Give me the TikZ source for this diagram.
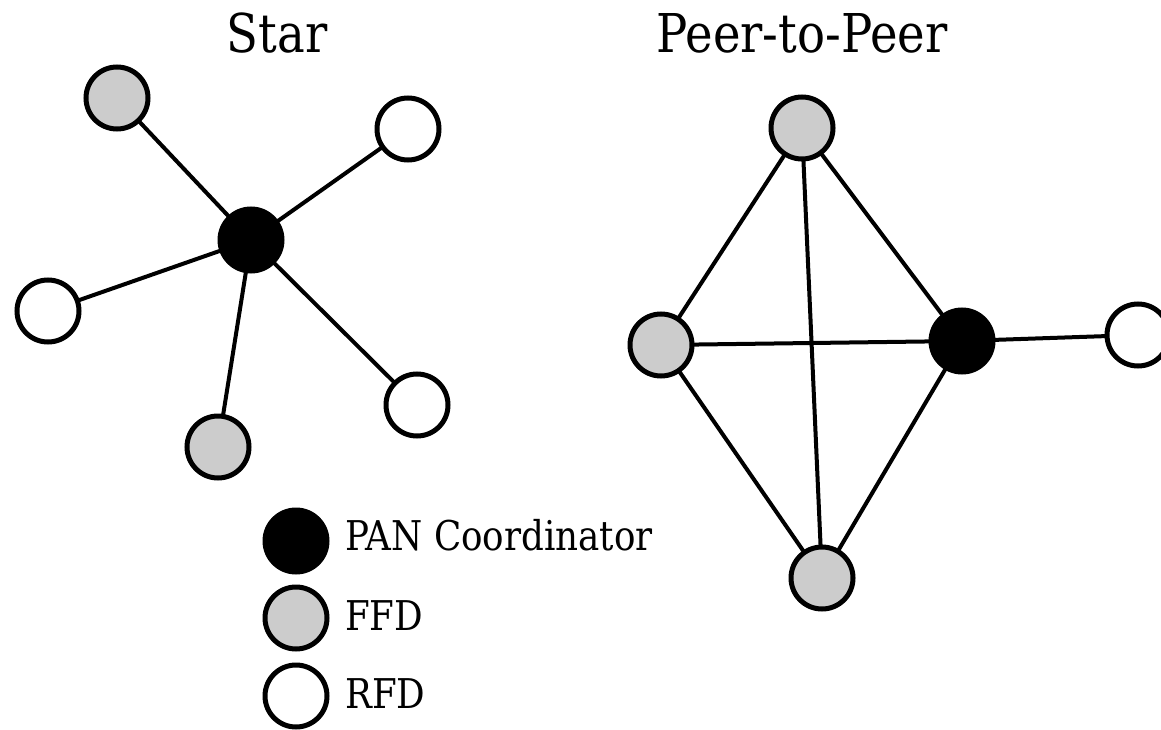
\documentclass[tikz,border=0pt]{standalone}
\usepackage{fontspec}
\setmainfont{DejaVu Serif}[FakeStretch=0.87]
\definecolor{ffdgray}{RGB}{204,204,204}
\tikzset{
  dev/.style={circle, draw=black, line width=5pt, minimum size=62pt, inner sep=0pt},
  pan/.style={dev, fill=black},
  ffd/.style={dev, fill=ffdgray},
  rfd/.style={dev, fill=white},
  link/.style={line width=4pt, black},
  title/.style={anchor=base, font=\fontsize{53.5}{60}\selectfont},
  legtext/.style={anchor=base west, font=\fontsize{41}{48}\selectfont, inner sep=0pt}
}
\begin{document}
\begin{tikzpicture}[x=1pt, y=-1pt]
\clip (0,0) rectangle (1161,730);
\fill[white] (0,0) rectangle (1161,730);
% titles
\node[title] (tstar) at (277,53) {Star};
\node[title] (tp2p) at (802,53) {Peer-to-Peer};
% star
\coordinate (sc) at (251,240);
\coordinate (s1) at (117,98);
\coordinate (s2) at (408,129);
\coordinate (s3) at (48,311);
\coordinate (s4) at (417,405);
\coordinate (s5) at (218,447);
\draw[link] (sc) -- (s1) (sc) -- (s2) (sc) -- (s3) (sc) -- (s4) (sc) -- (s5);
\node[pan] (c) at (sc) {};
\node[ffd] (a1) at (s1) {};
\node[rfd] (a2) at (s2) {};
\node[rfd] (a3) at (s3) {};
\node[rfd] (a4) at (s4) {};
\node[ffd] (a5) at (s5) {};
% peer-to-peer
\coordinate (pt) at (802,128);
\coordinate (pl) at (661,345);
\coordinate (pr) at (962,341);
\coordinate (pb) at (822,578);
\coordinate (pf) at (1138,335);
\draw[link] (pt) -- (pl) (pt) -- (pr) (pt) -- (pb) (pl) -- (pr) (pl) -- (pb) (pr) -- (pb) (pr) -- (pf);
\node[ffd] (b1) at (pt) {};
\node[ffd] (b2) at (pl) {};
\node[pan] (b3) at (pr) {};
\node[ffd] (b4) at (pb) {};
\node[rfd] (b5) at (pf) {};
% legend
\node[pan] (l1) at (296,541) {};
\node[ffd] (l2) at (296,618) {};
\node[rfd] (l3) at (296,696) {};
\node[legtext] (lt1) at (345,550) {PAN Coordinator};
\node[legtext] (lt2) at (345,630) {FFD};
\node[legtext] (lt3) at (345,708) {RFD};
\end{tikzpicture}
\end{document}
